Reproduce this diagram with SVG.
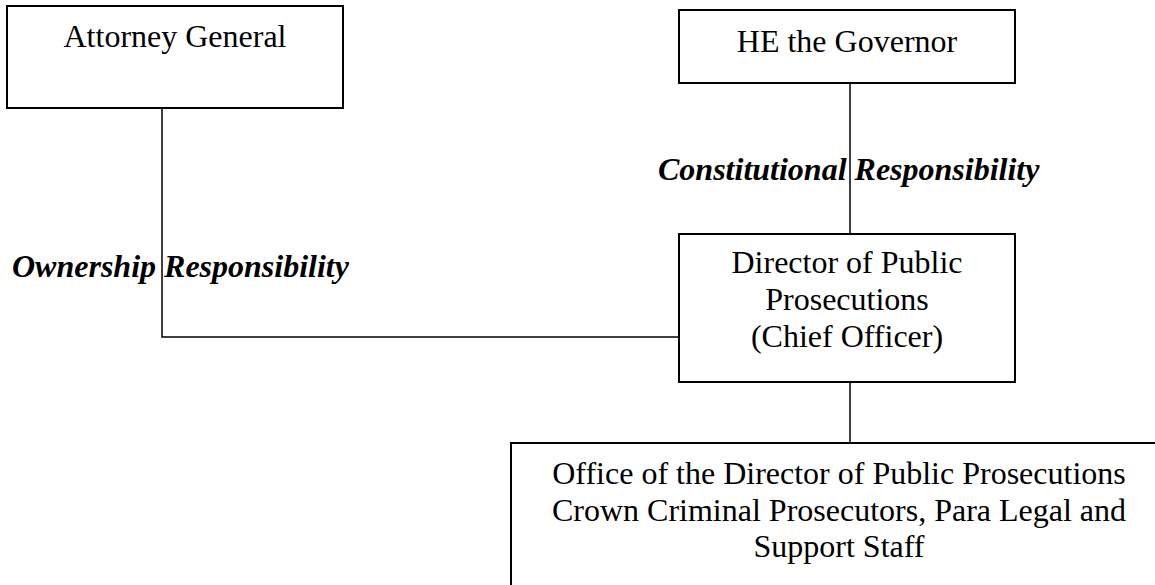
<svg xmlns="http://www.w3.org/2000/svg" width="1155" height="585" viewBox="0 0 1155 585">
<style>
.box{fill:#fff;stroke:#000;stroke-width:2}
.t{font-family:"Liberation Serif","Times New Roman",serif;font-size:32px;fill:#000;text-anchor:middle}
.lbl{font-family:"Liberation Serif","Times New Roman",serif;font-size:32px;font-weight:bold;font-style:italic;fill:#000}
.ln{stroke:#000;stroke-width:1.5;fill:none}
</style>
<rect width="1155" height="585" fill="#fff"/>
<g id="connectors">
<polyline class="ln" points="162,108 162,337 679,337"/>
<line class="ln" x1="850" y1="83" x2="850" y2="234"/>
<line class="ln" x1="850" y1="382" x2="850" y2="443"/>
</g>
<g id="labels">
<text class="lbl" x="658" y="180">Constitutional Responsibility</text>
<text class="lbl" x="12" y="277">Ownership Responsibility</text>
</g>
<g id="attorney-general">
<rect class="box" x="7" y="6" width="336" height="102"/>
<text class="t" x="175" y="47">Attorney General</text>
</g>
<g id="governor">
<rect class="box" x="679" y="10" width="336" height="73"/>
<text class="t" x="847" y="52">HE the Governor</text>
</g>
<g id="dpp">
<rect class="box" x="679" y="234" width="336" height="148"/>
<text class="t" x="847" y="273">Director of Public</text>
<text class="t" x="847" y="310">Prosecutions</text>
<text class="t" x="847" y="347">(Chief Officer)</text>
</g>
<g id="odpp">
<rect class="box" x="511" y="443" width="700" height="200"/>
<text class="t" x="839" y="484">Office of the Director of Public Prosecutions</text>
<text class="t" x="839" y="521">Crown Criminal Prosecutors, Para Legal and</text>
<text class="t" x="839" y="557">Support Staff</text>
</g>
</svg>
